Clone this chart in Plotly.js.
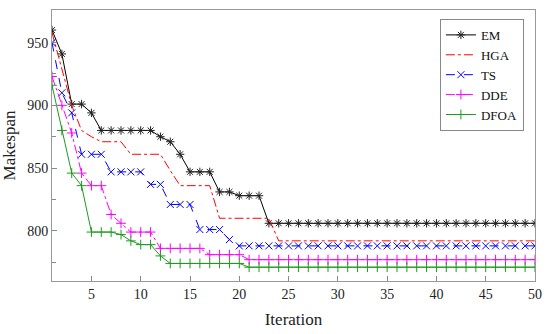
<!DOCTYPE html>
<html>
<head>
<meta charset="utf-8">
<script src="https://cdn.plot.ly/plotly-3.0.1.min.js"></script>
<style>html,body{margin:0;padding:0;background:#fff;}#chart{width:550px;height:334px;}</style>
</head>
<body>
<div id="chart"></div>
<script>
const iterations = Array.from({length: 50}, (_, i) => i + 1);
const seriesNames = ["EM", "HGA", "TS", "DDE", "DFOA"];
const EM = [960, 941, 901, 901, 894, 880, 880, 880, 880, 880,
            880, 875, 871, 861, 847, 847, 847, 831, 831, 828,
            828, 828, 806, 806, 806, 806, 806, 806, 806, 806,
            806, 806, 806, 806, 806, 806, 806, 806, 806, 806,
            806, 806, 806, 806, 806, 806, 806, 806, 806, 806];
const HGA = [958, 929, 900, 880, 875, 871, 871, 871, 861, 861,
             861, 861, 848, 836, 836, 836, 836, 810, 810, 810,
             810, 810, 810, 792, 792, 792, 792, 792, 792, 792,
             792, 792, 792, 792, 792, 792, 792, 792, 792, 792,
             792, 792, 792, 792, 792, 792, 792, 792, 792, 792];
const TS = [950, 910, 894, 861, 861, 861, 847, 847, 847, 847,
            837, 837, 821, 821, 821, 801, 801, 801, 793, 788,
            788, 788, 788, 788, 788, 788, 788, 788, 788, 788,
            788, 788, 788, 788, 788, 788, 788, 788, 788, 788,
            788, 788, 788, 788, 788, 788, 788, 788, 788, 788];
const DDE = [923, 900, 878, 846, 836, 836, 813, 806, 799, 799,
             799, 786, 786, 786, 786, 786, 781, 781, 781, 781,
             777, 777, 777, 777, 777, 777, 777, 777, 777, 777,
             777, 777, 777, 777, 777, 777, 777, 777, 777, 777,
             777, 777, 777, 777, 777, 777, 777, 777, 777, 777];
const DFOA = [916, 880, 846, 836, 799, 799, 799, 797, 792, 789,
              789, 780, 774, 774, 774, 774, 774, 774, 774, 774,
              771, 771, 771, 771, 771, 771, 771, 771, 771, 771,
              771, 771, 771, 771, 771, 771, 771, 771, 771, 771,
              771, 771, 771, 771, 771, 771, 771, 771, 771, 771];
const xTicks = [5, 10, 15, 20, 25, 30, 35, 40, 45, 50];
const yTicks = [800, 850, 900, 950];

const serif = "Liberation Serif, Times New Roman, serif";

const traces = [
  {x: iterations, y: EM, name: seriesNames[0], mode: "lines+markers",
   line: {color: "#000000", width: 1, dash: "solid"},
   marker: {symbol: "asterisk-open", size: 7, color: "#222222", line: {width: 1, color: "#222222"}}},
  {x: iterations, y: HGA, name: seriesNames[1], mode: "lines",
   line: {color: "#ff0000", width: 1, dash: "dashdot"}},
  {x: iterations, y: TS, name: seriesNames[2], mode: "lines+markers",
   line: {color: "#0000ff", width: 1, dash: "dash"},
   marker: {symbol: "x-thin-open", size: 7, color: "#0000ff", line: {width: 1, color: "#0000ff"}}},
  {x: iterations, y: DDE, name: seriesNames[3], mode: "lines+markers",
   line: {color: "#ff00ff", width: 1, dash: "dashdot"},
   marker: {symbol: "cross-thin-open", size: 7, color: "#ff00ff", line: {width: 1, color: "#ff00ff"}}},
  {x: iterations, y: DFOA, name: seriesNames[4], mode: "lines+markers",
   line: {color: "#1f9a1f", width: 1, dash: "solid"},
   marker: {symbol: "cross-thin-open", size: 7, color: "#1f9a1f", line: {width: 1, color: "#1f9a1f"}}}
];

const layout = {
  width: 550, height: 334,
  margin: {l: 52, r: 15, t: 10, b: 53},
  paper_bgcolor: "#ffffff", plot_bgcolor: "#ffffff",
  font: {family: serif, size: 14, color: "#222222"},
  showlegend: true,
  legend: {x: 0.977, y: 0.967, xanchor: "right", yanchor: "top",
           bordercolor: "#888888", borderwidth: 1, bgcolor: "#ffffff",
           font: {family: serif, size: 13, color: "#111111"}, tracegroupgap: 0,
           itemwidth: 30},
  xaxis: {range: [1, 50], tickvals: xTicks, ticktext: xTicks.map(String),
          ticks: "inside", ticklen: 5, tickcolor: "#888888",
          showline: true, linecolor: "#999999", linewidth: 1, mirror: true,
          showgrid: false, zeroline: false,
          tickfont: {family: serif, size: 14, color: "#222222"},
          title: {text: "Iteration", font: {family: serif, size: 17, color: "#222222"}, standoff: 12}},
  yaxis: {range: [760, 976], tickvals: yTicks, ticktext: yTicks.map(String),
          ticks: "inside", ticklen: 5, tickcolor: "#888888",
          minor: {tickvals: [775, 825, 875, 925], ticks: "inside", ticklen: 4, tickcolor: "#888888"},
          showline: true, linecolor: "#999999", linewidth: 1, mirror: true,
          showgrid: false, zeroline: false,
          tickfont: {family: serif, size: 14, color: "#222222"},
          title: {text: "Makespan", font: {family: serif, size: 17, color: "#222222"}, standoff: 8}}
};

Plotly.newPlot("chart", traces, layout, {staticPlot: true, displayModeBar: false});
</script>
</body>
</html>
